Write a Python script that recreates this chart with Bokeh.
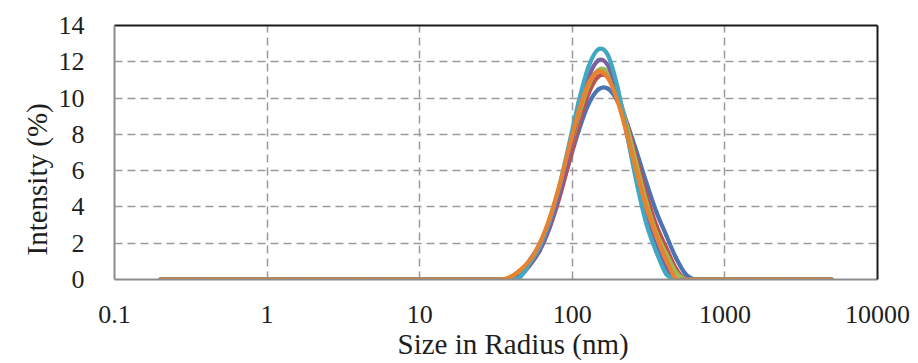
import math

from bokeh.plotting import figure
from bokeh.models import Range1d, FixedTicker, LogAxis, LinearAxis, CustomJSTickFormatter, Title
from bokeh.embed import file_html
from bokeh.resources import INLINE

# Size classes (radius, nm) of the intensity distribution
radius_nm = [
    0.2, 0.2316, 0.2683, 0.3107, 0.3598, 0.4166, 0.4825, 0.5585, 0.647, 0.7495,
    0.868, 1.005, 1.164, 1.348, 1.561, 1.808, 2.094, 2.425, 2.808, 3.252,
    3.766, 4.361, 5.05, 5.85, 6.77, 7.845, 9.085, 10.52, 12.18, 14.11,
    16.34, 18.92, 21.91, 25.38, 29.39, 34.03, 39.41, 45.64, 52.85, 61.2,
    70.9, 82.1, 95.1, 110.1, 127.5, 147.7, 171.0, 198.1, 229.4, 265.6,
    307.6, 356.2, 412.5, 477.7, 553.1, 640.6, 741.9, 859.1, 995.0, 1152.5,
    1334.5, 1545.5, 1790.0, 2072.5, 2400.0, 2780.0, 3219.5, 3728.0, 4317.5, 5000.0,
]

# Intensity (%) per size class, one list per measurement
run_1 = [
    0, 0, 0, 0, 0, 0, 0, 0, 0, 0, 0, 0, 0, 0, 0, 0, 0, 0, 0, 0,
    0, 0, 0, 0, 0, 0, 0, 0, 0, 0, 0, 0, 0, 0, 0, 0,
    0, 0.3, 1.1, 1.93, 3.13, 4.65, 6.43, 8.2, 9.65, 10.47,
    10.52, 9.83, 8.56, 6.96, 5.27, 3.71, 2.44, 1.2, 0.3, 0,
    0, 0, 0, 0, 0, 0, 0, 0, 0, 0, 0, 0, 0, 0,
]
run_2 = [
    0, 0, 0, 0, 0, 0, 0, 0, 0, 0, 0, 0, 0, 0, 0, 0, 0, 0, 0, 0,
    0, 0, 0, 0, 0, 0, 0, 0, 0, 0, 0, 0, 0, 0, 0, 0,
    0, 0.25, 0.86, 1.63, 2.84, 4.47, 6.46, 8.52, 10.22, 11.18,
    11.17, 10.2, 8.53, 6.57, 4.61, 2.96, 1.76, 0.6, 0, 0,
    0, 0, 0, 0, 0, 0, 0, 0, 0, 0, 0, 0, 0, 0,
]
run_3 = [
    0, 0, 0, 0, 0, 0, 0, 0, 0, 0, 0, 0, 0, 0, 0, 0, 0, 0, 0, 0,
    0, 0, 0, 0, 0, 0, 0, 0, 0, 0, 0, 0, 0, 0, 0, 0,
    0, 0.3, 1.04, 1.92, 3.23, 4.95, 6.98, 9.02, 10.67, 11.54,
    11.42, 10.26, 8.37, 6.23, 4.19, 2.55, 1.42, 0.4, 0, 0,
    0, 0, 0, 0, 0, 0, 0, 0, 0, 0, 0, 0, 0, 0,
]
run_4 = [
    0, 0, 0, 0, 0, 0, 0, 0, 0, 0, 0, 0, 0, 0, 0, 0, 0, 0, 0, 0,
    0, 0, 0, 0, 0, 0, 0, 0, 0, 0, 0, 0, 0, 0, 0, 0,
    0, 0.2, 0.8, 1.6, 2.89, 4.69, 6.92, 9.23, 11.12, 12.07,
    11.81, 10.27, 7.92, 5.45, 3.32, 1.79, 0.6, 0, 0, 0,
    0, 0, 0, 0, 0, 0, 0, 0, 0, 0, 0, 0, 0, 0,
]
run_5 = [
    0, 0, 0, 0, 0, 0, 0, 0, 0, 0, 0, 0, 0, 0, 0, 0, 0, 0, 0, 0,
    0, 0, 0, 0, 0, 0, 0, 0, 0, 0, 0, 0, 0, 0, 0, 0,
    0, 0.15, 0.93, 1.81, 3.2, 5.1, 7.43, 9.8, 11.71, 12.68,
    12.37, 10.58, 7.91, 5.22, 2.99, 1.5, 0.3, 0, 0, 0,
    0, 0, 0, 0, 0, 0, 0, 0, 0, 0, 0, 0, 0, 0,
]
run_6 = [
    0, 0, 0, 0, 0, 0, 0, 0, 0, 0, 0, 0, 0, 0, 0, 0, 0, 0, 0, 0,
    0, 0, 0, 0, 0, 0, 0, 0, 0, 0, 0, 0, 0, 0, 0, 0,
    0.15, 0.53, 1.07, 2.0, 3.37, 5.15, 7.23, 9.25, 10.79, 11.46,
    11.12, 9.83, 7.92, 5.85, 3.91, 2.39, 1.1, 0.05, 0, 0,
    0, 0, 0, 0, 0, 0, 0, 0, 0, 0, 0, 0, 0, 0,
]

runs = [run_1, run_2, run_3, run_4, run_5, run_6]
colors = ["#4A74B4", "#C0504D", "#9BBB59", "#7D60A0", "#41A8C4", "#E8822E"]

x_ticks = [0.1, 1, 10, 100, 1000, 10000]
y_ticks = [0, 2, 4, 6, 8, 10, 12, 14]
x_title = "Size in Radius (nm)"
y_title = "Intensity (%)"

FONT = "Liberation Serif"
TEXT = "#1e1e1e"


def smooth_segments(xs, ys):
    """Cubic Bezier segments through every point (smoothed line, log-x)."""
    lx = [math.log10(v) for v in xs]
    n = len(xs)
    seg = dict(x0=[], y0=[], x1=[], y1=[], cx0=[], cy0=[], cx1=[], cy1=[])
    for i in range(n - 1):
        a, b = max(i - 1, 0), min(i + 2, n - 1)
        c0x = lx[i] + (lx[i + 1] - lx[a]) / 6.0
        c0y = ys[i] + (ys[i + 1] - ys[a]) / 6.0
        c1x = lx[i + 1] - (lx[b] - lx[i]) / 6.0
        c1y = ys[i + 1] - (ys[b] - ys[i]) / 6.0
        seg["x0"].append(xs[i]); seg["y0"].append(ys[i])
        seg["x1"].append(xs[i + 1]); seg["y1"].append(ys[i + 1])
        seg["cx0"].append(10 ** c0x); seg["cy0"].append(c0y)
        seg["cx1"].append(10 ** c1x); seg["cy1"].append(c1y)
    return seg


p = figure(
    width=918, height=363,
    x_axis_type="log",
    x_range=Range1d(0.1, 10000), y_range=Range1d(0, 14),
    output_backend="svg", toolbar_location=None,
    min_border_left=114, min_border_right=41,
    min_border_top=25, min_border_bottom=84,
)
p.outline_line_color = None
p.background_fill_color = "white"
p.border_fill_color = "white"

for ys, c in zip(runs, colors):
    s = smooth_segments(radius_nm, ys)
    p.bezier(x0=s["x0"], y0=s["y0"], x1=s["x1"], y1=s["y1"],
             cx0=s["cx0"], cy0=s["cy0"], cx1=s["cx1"], cy1=s["cy1"],
             line_color=c, line_width=4.2, line_cap="round")

# dashed grid
p.xgrid.ticker = FixedTicker(ticks=[1, 10, 100, 1000])
p.ygrid.ticker = FixedTicker(ticks=[2, 4, 6, 8, 10, 12])
for g in (p.xgrid, p.ygrid):
    g.grid_line_color = "#9a9a9a"
    g.grid_line_dash = "8 5"
    g.grid_line_width = 1.5

xa = p.xaxis[0]
xa.ticker = FixedTicker(ticks=x_ticks)
xa.formatter = CustomJSTickFormatter(code="return tick.toString();")
xa.major_label_standoff = 20

ya = p.yaxis[0]
ya.ticker = FixedTicker(ticks=y_ticks)
ya.major_label_standoff = 24

for ax in (xa, ya):
    ax.axis_line_color = "#8c8c8c"
    ax.axis_line_width = 2
    ax.major_tick_line_color = None
    ax.minor_tick_line_color = None
    ax.major_label_text_font = FONT
    ax.major_label_text_font_size = "26px"
    ax.major_label_text_color = TEXT

# blank spacer between the y tick labels and the y title
spacer = LinearAxis(ticker=FixedTicker(ticks=[]), axis_line_color=None,
                    major_tick_line_color=None, minor_tick_line_color=None,
                    major_tick_out=12, minor_tick_out=0,
                    major_label_text_font_size="0px")
p.add_layout(spacer, "left")

# axis titles, placed as side titles so they can sit off-centre
p.add_layout(Title(text=x_title, align="left", offset=283, standoff=0,
                   text_font=FONT, text_font_size="29px", text_font_style="normal",
                   text_color=TEXT), "below")
p.add_layout(Title(text=y_title, align="left", offset=24, standoff=6,
                   text_font=FONT, text_font_size="29px", text_font_style="normal",
                   text_color=TEXT), "left")

# dark frame edges on top and right
top = LogAxis(ticker=FixedTicker(ticks=[]), axis_line_color="#1a1a1a", axis_line_width=2,
              major_tick_line_color=None, minor_tick_line_color=None,
              major_label_text_font_size="0px")
right = LinearAxis(ticker=FixedTicker(ticks=[]), axis_line_color="#1a1a1a", axis_line_width=2,
                   major_tick_line_color=None, minor_tick_line_color=None,
                   major_label_text_font_size="0px")
p.add_layout(top, "above")
p.add_layout(right, "right")

open("out.html", "w").write(file_html(p, INLINE))
